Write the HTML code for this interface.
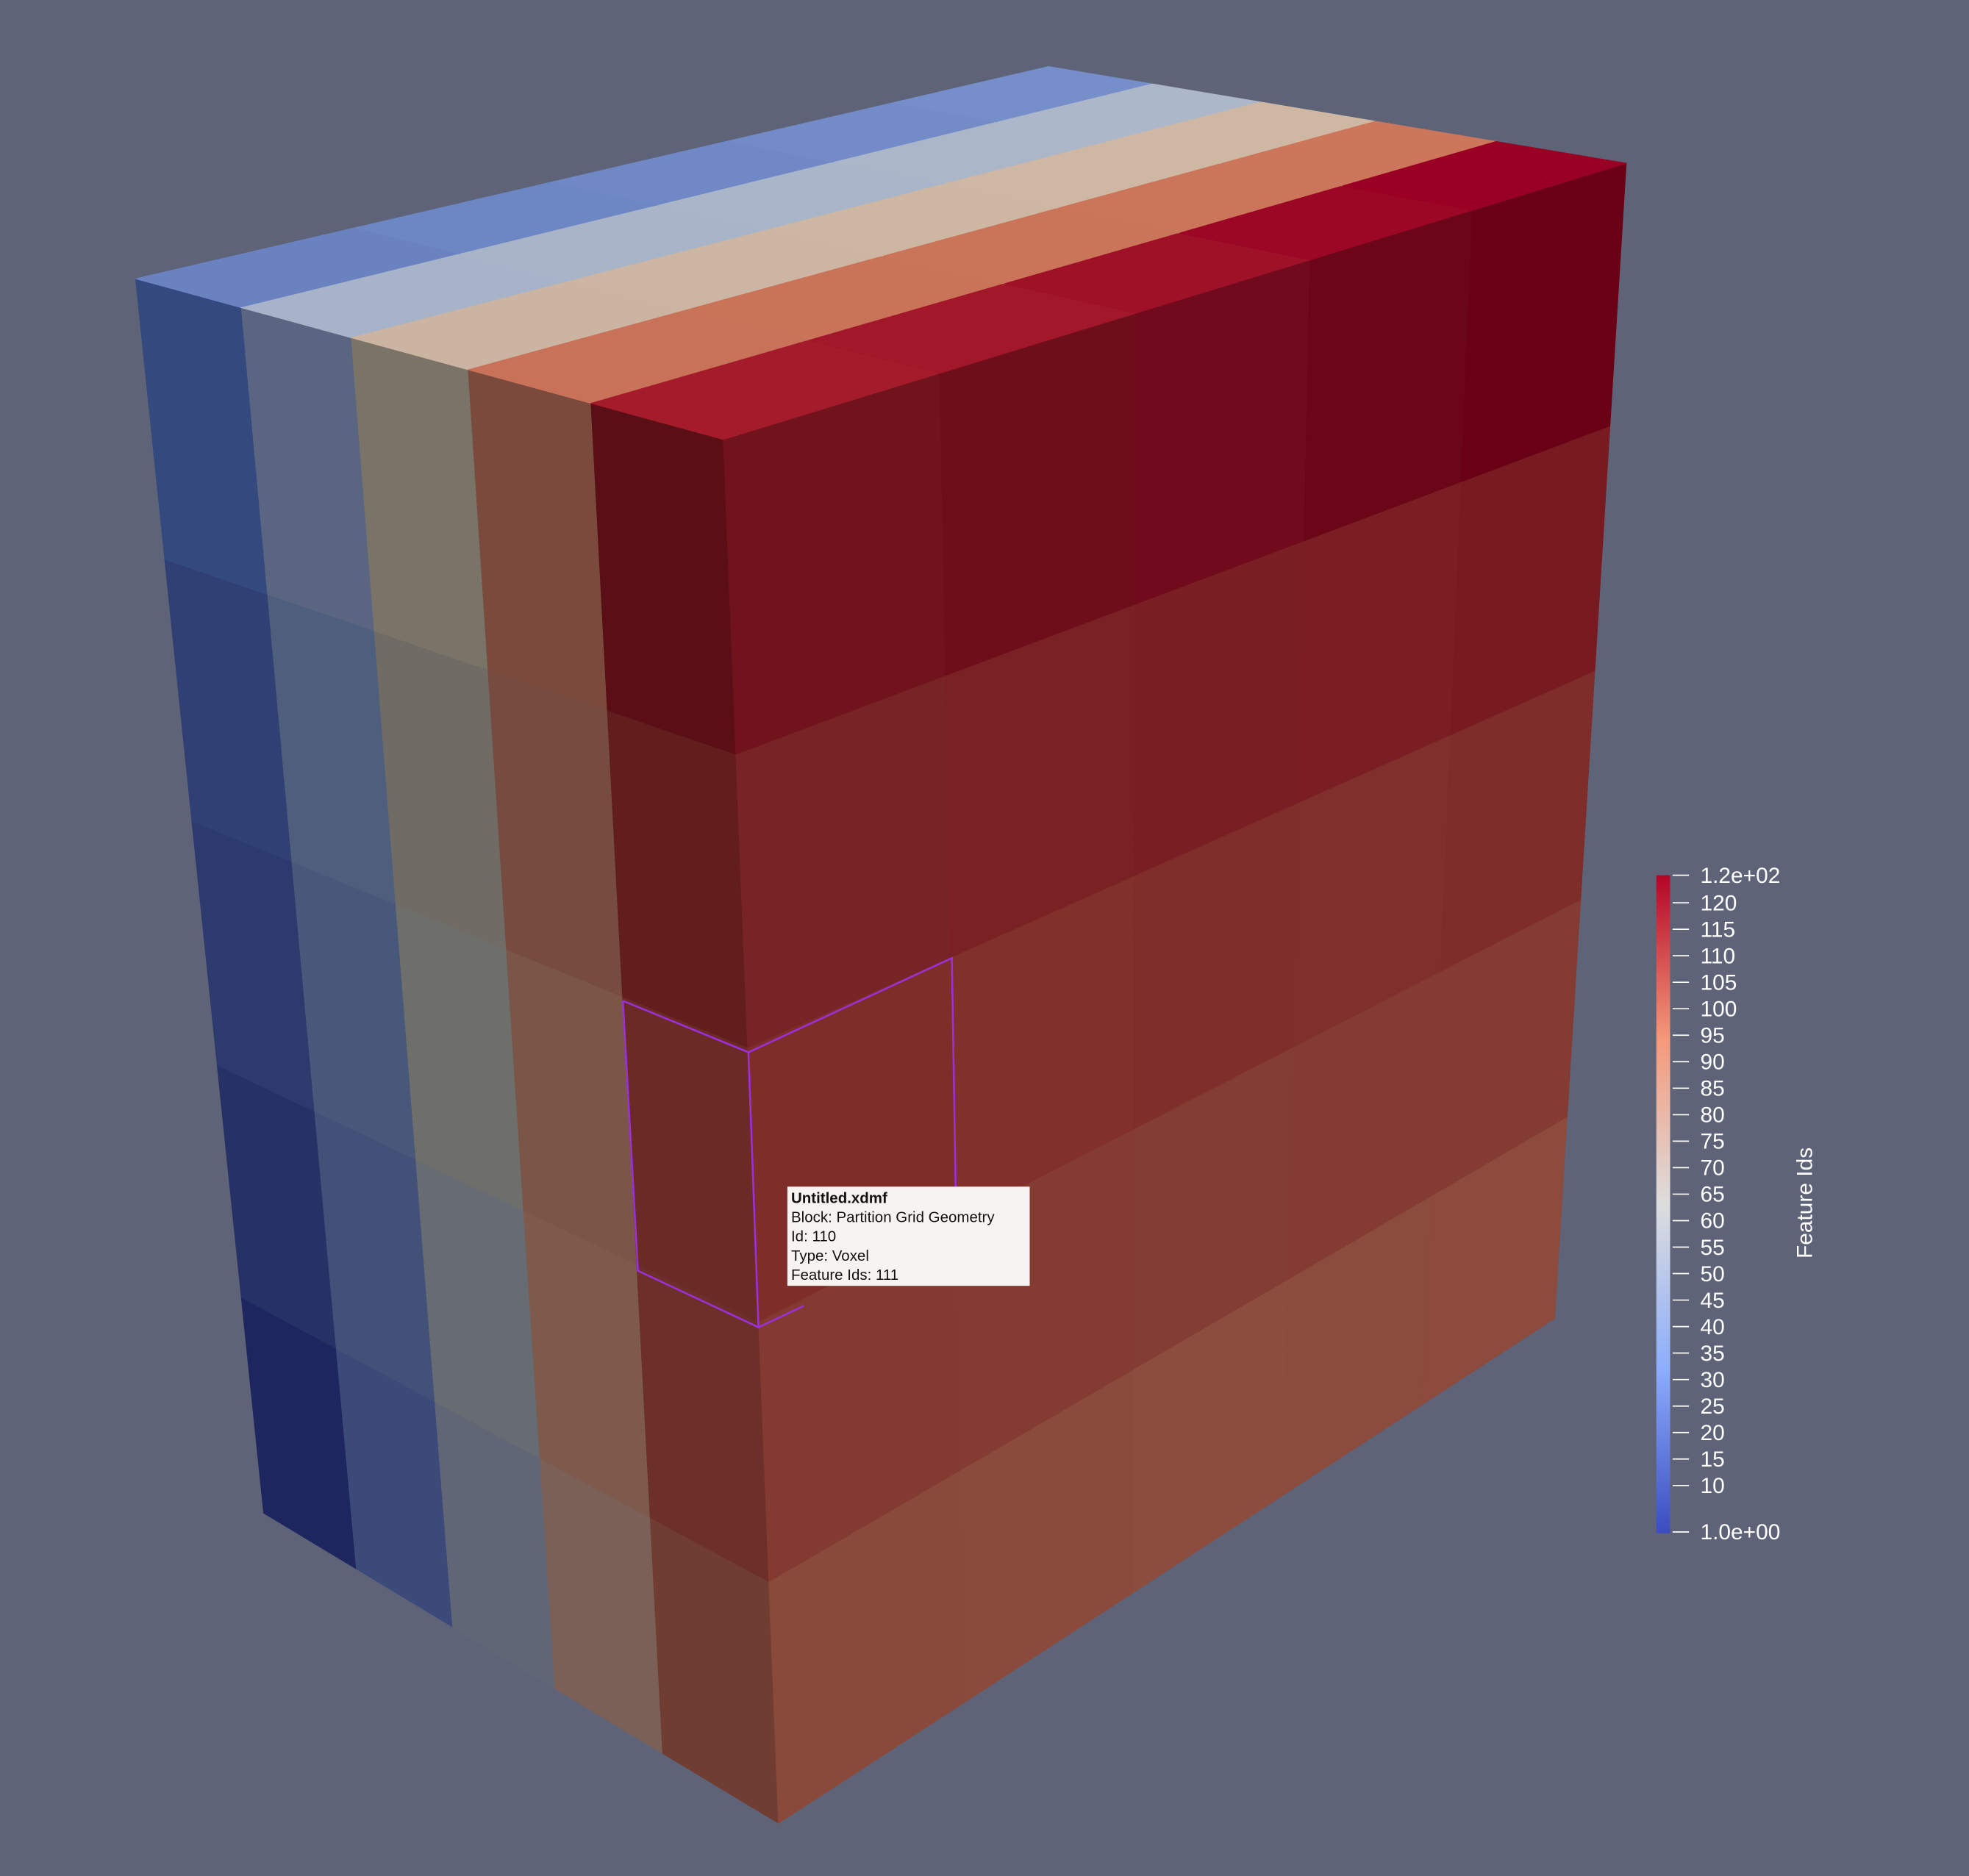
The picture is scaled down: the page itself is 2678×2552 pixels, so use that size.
<!DOCTYPE html>
<html><head><meta charset="utf-8"><style>
html,body{margin:0;padding:0;background:#5e6378;}
svg{display:block;}
</style></head><body>
<svg id="scene" width="2678" height="2552" viewBox="0 0 1568 1494" preserveAspectRatio="none" xmlns="http://www.w3.org/2000/svg" font-family="'Liberation Sans', sans-serif">
<defs>
<linearGradient id="cmap" x1="0" y1="1" x2="0" y2="0">
<stop offset="0" stop-color="#3b4cc0"/>
<stop offset="0.25" stop-color="#8caefc"/>
<stop offset="0.5" stop-color="#dddddd"/>
<stop offset="0.75" stop-color="#f49a7b"/>
<stop offset="1" stop-color="#b40426"/>
</linearGradient>
</defs>
<rect x="0" y="0" width="1568" height="1494" fill="#5e6378"/>
<g id="faces"></g>
<g id="cbar"></g>
</svg>
<script>
const rowFrac = [0, 0.228, 0.44, 0.638, 0.826, 1];
const leftColFrac = [0, 0.18, 0.367, 0.566, 0.775, 1];
const frontColFrac = [0, 0.24, 0.457, 0.65, 0.83, 1];
const leftColors = [
 ["#344a7f","#5a6581","#7a7468","#7a4b3c","#5a0f16"],
 ["#303f74","#4e5e7d","#706c65","#764c40","#621e1c"],
 ["#2c3a6d","#48587a","#6e6e6b","#7a5548","#6b2a26"],
 ["#263165","#425178","#676c73","#7d5a4c","#6c2f29"],
 ["#1e2660","#3b4a78","#606675","#7b6058","#703d33"]
];
const frontColors = [
 ["#70131d","#6d0e1a","#700a1c","#6b0518","#6a0016"],
 ["#782325","#7a2123","#791f23","#7a1e24","#771b21"],
 ["#7e2d29","#82302b","#7f2e2b","#80302c","#7e2d2a"],
 ["#833a30","#843b31","#843d33","#843c32","#843b31"],
 ["#8a4a3b","#8b4b3c","#8c4d3f","#8b4b3d","#8c4b3c"]
];
const topColors = [
 ["#6b82c1","#6d86c4","#7088c6","#738cc8","#768fca"],
 ["#a6b3c9","#a8b5c9","#a9b6c9","#abb7c9","#acb8c9"],
 ["#cbb4a2","#ccb5a2","#cdb6a2","#ceb7a3","#cfb8a3"],
 ["#c87259","#c97359","#ca745a","#cb755a","#cc765b"],
 ["#a41c2b","#a2172a","#9e1127","#9c0726","#9a0023"]
];
const tickValues = [120,115,110,105,100,95,90,85,80,75,70,65,60,55,50,45,40,35,30,25,20,15,10];
const rangeMin = 1, rangeMax = 125.2;

const NS="http://www.w3.org/2000/svg";
const faces=document.getElementById('faces');
function lerp(a,b,t){return [a[0]+(b[0]-a[0])*t,a[1]+(b[1]-a[1])*t];}
function quadPt(p00,p10,p01,p11,u,v){return lerp(lerp(p00,p10,u),lerp(p01,p11,u),v);}
function drawFace(p00,p10,p01,p11,uF,vF,colors,name,rowIsU){
  for(let i=0;i<5;i++)for(let j=0;j<5;j++){
    const u0=uF[j],u1=uF[j+1],v0=vF[i],v1=vF[i+1];
    const pts=[quadPt(p00,p10,p01,p11,u0,v0),quadPt(p00,p10,p01,p11,u1,v0),quadPt(p00,p10,p01,p11,u1,v1),quadPt(p00,p10,p01,p11,u0,v1)];
    const p=document.createElementNS(NS,'polygon');
    p.setAttribute('points',pts.map(q=>q.join(',')).join(' '));
    const c=rowIsU?colors[j][i]:colors[i][j];
    p.setAttribute('fill',c);
    p.setAttribute('stroke',c);
    p.setAttribute('stroke-width','0.6');
    
    
    faces.appendChild(p);
  }
}
drawFace([108,222],[576,350],[210,1205],[620,1452],leftColFrac,rowFrac,leftColors,'left-face',false);
drawFace([576,350],[1295,130],[620,1452],[1238,1050],frontColFrac,rowFrac,frontColors,'front-face',false);
drawFace([108,222],[576,350],[835,53],[1295,130],leftColFrac,frontColFrac,topColors,'top-face',true);

const sel=document.createElementNS(NS,'polyline');
sel.setAttribute('points','496,797 596,838 758,763 761,945');
sel.setAttribute('fill','none');sel.setAttribute('stroke','#9b30d8');sel.setAttribute('stroke-width','1.5');


faces.appendChild(sel);
const sel2=document.createElementNS(NS,'polyline');
sel2.setAttribute('points','496,797 508,1012 604,1057 596,838');
sel2.setAttribute('fill','none');sel2.setAttribute('stroke','#9b30d8');sel2.setAttribute('stroke-width','1.5');


faces.appendChild(sel2);
const sel3=document.createElementNS(NS,'line');
sel3.setAttribute('x1','604');sel3.setAttribute('y1','1057');sel3.setAttribute('x2','640');sel3.setAttribute('y2','1040');
sel3.setAttribute('stroke','#9b30d8');sel3.setAttribute('stroke-width','1.5');


faces.appendChild(sel3);

const tip=document.createElementNS(NS,'g');


const tr=document.createElementNS(NS,'rect');
tr.setAttribute('x','627');tr.setAttribute('y','945');tr.setAttribute('width','193');tr.setAttribute('height','79');tr.setAttribute('fill','#f7f3f1');
tip.appendChild(tr);
const lines=["Untitled.xdmf","Block: Partition Grid Geometry","Id: 110","Type: Voxel","Feature Ids: 111"];
lines.forEach((s,k)=>{
  const t=document.createElementNS(NS,'text');
  t.setAttribute('x','630');t.setAttribute('y',String(958+k*15.3));
  t.setAttribute('font-size','12');t.setAttribute('fill','#111');
  if(k===0)t.setAttribute('font-weight','bold');
  t.textContent=s;
  
  
  tip.appendChild(t);
});
faces.appendChild(tip);

const cb=document.getElementById('cbar');
const barTop=697,barBot=1221;
function yOf(v){return barBot-(v-rangeMin)/(rangeMax-rangeMin)*(barBot-barTop);}
const bar=document.createElementNS(NS,'rect');
bar.setAttribute('x','1319');bar.setAttribute('y',String(barTop));bar.setAttribute('width','11');bar.setAttribute('height',String(barBot-barTop));bar.setAttribute('fill','url(#cmap)');


cb.appendChild(bar);
function addTick(y,label){
  const l=document.createElementNS(NS,'line');
  l.setAttribute('x1','1332');l.setAttribute('x2','1345');l.setAttribute('y1',y);l.setAttribute('y2',y);
  l.setAttribute('stroke','#fff');l.setAttribute('stroke-width','1');
  
  
  cb.appendChild(l);
  const t=document.createElementNS(NS,'text');
  t.setAttribute('x','1354');t.setAttribute('y',y+6);t.setAttribute('font-size','17.5');t.setAttribute('fill','#fff');
  t.textContent=label;
  
  
  cb.appendChild(t);
}
addTick(697,"1.2e+02");
tickValues.forEach(v=>addTick(yOf(v),String(v)));
addTick(1220,"1.0e+00");
const title=document.createElementNS(NS,'text');
title.setAttribute('transform','translate(1443,958) rotate(-90)');
title.setAttribute('text-anchor','middle');title.setAttribute('font-size','17.5');title.setAttribute('fill','#fff');
title.textContent="Feature Ids";


cb.appendChild(title);
</script>
</body></html>
